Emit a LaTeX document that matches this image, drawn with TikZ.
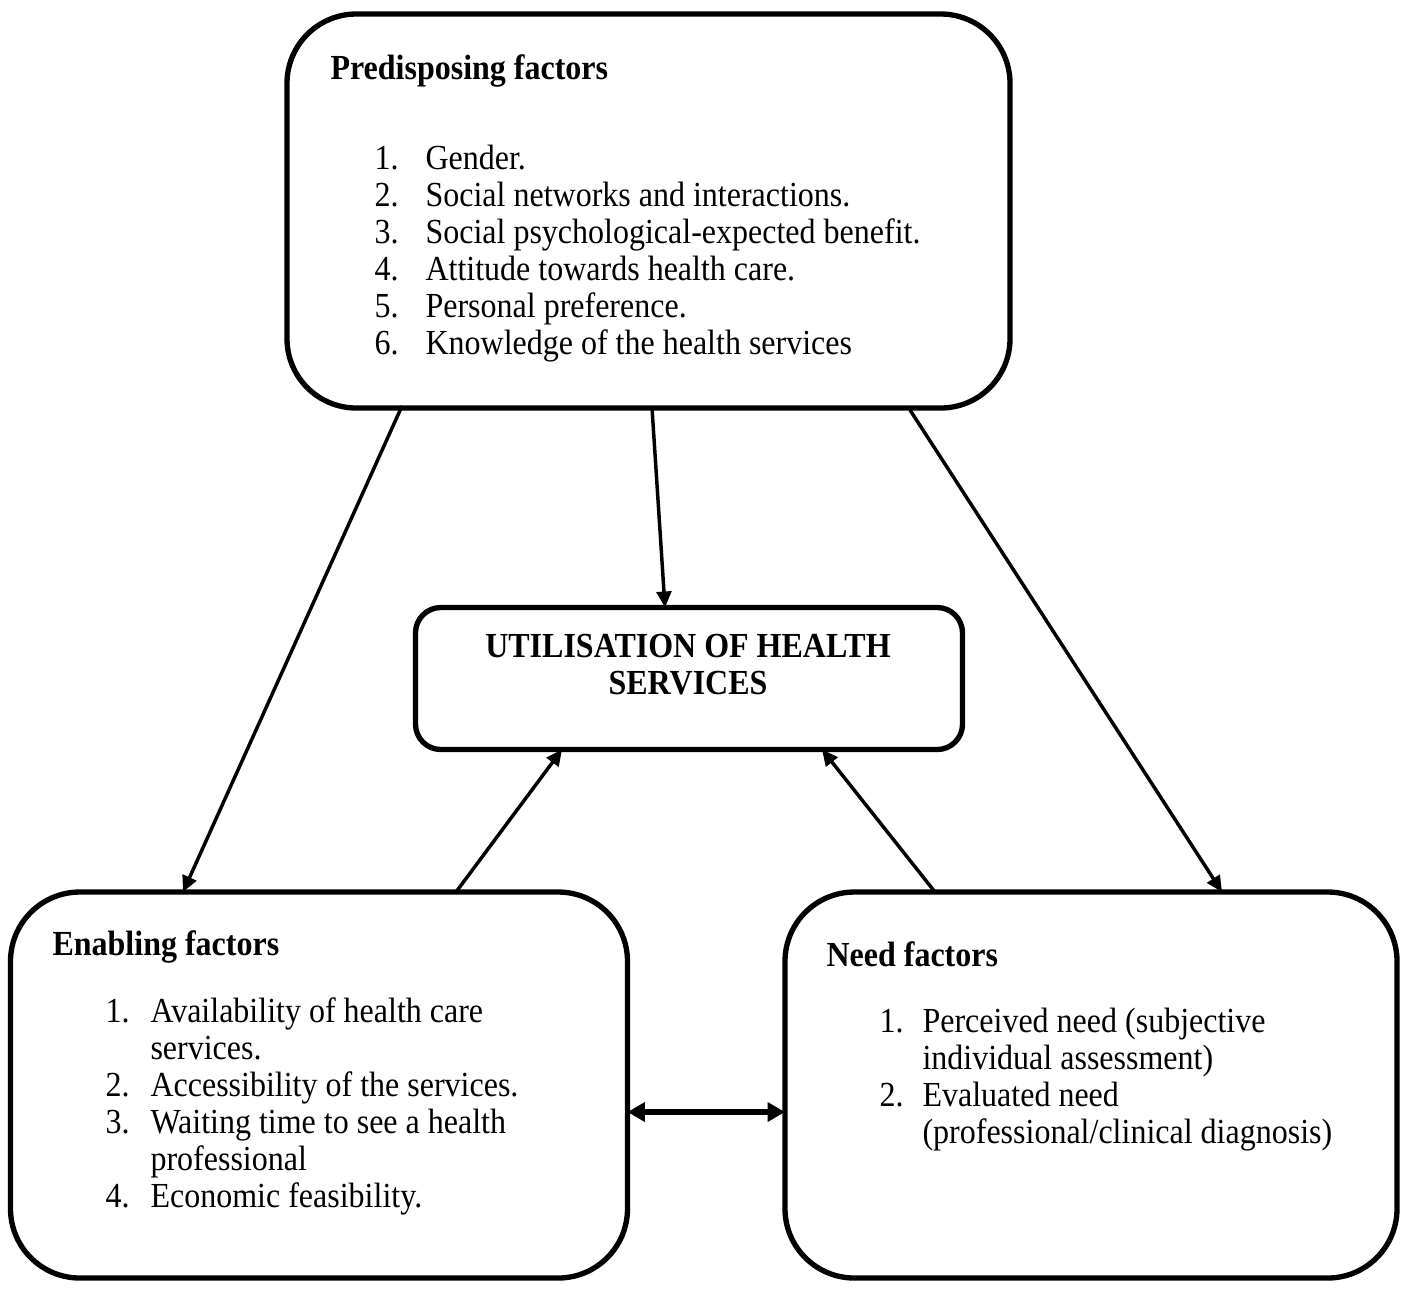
\documentclass[tikz,border=0pt]{standalone}
\usepackage{fontspec}
\setmainfont{Liberation Serif}
\usetikzlibrary{arrows.meta,calc}
\newcommand{\vstr}[1]{\scalebox{1}[1.1]{#1}}
\begin{document}
\begin{tikzpicture}[x=0.375pt,y=-0.375pt,
  box/.style={draw,line width=2pt,inner sep=0pt,outer sep=0pt},
  arr/.style={line width=1.3pt,-{Triangle[length=6pt,width=5.5pt]}},
  dbl/.style={line width=1.9pt,{Triangle[length=6.5pt,width=7pt]}-{Triangle[length=6.5pt,width=7pt]}},
  txt/.style={anchor=base west,inner sep=0pt,font=\fontsize{12}{13.8}\selectfont},
  hd/.style={txt,font=\fontsize{12}{13.8}\selectfont\bfseries},
  ctr/.style={anchor=base,inner sep=0pt,font=\fontsize{12}{13.8}\selectfont\bfseries}]
\useasboundingbox (0,0) rectangle (1407,1288);
% boxes
\node[box,rounded corners=26pt,minimum width=271.125pt,minimum height=147.75pt] (top) at (648.5,211) {};
\node[box,rounded corners=9.5pt,minimum width=205.125pt,minimum height=53.25pt] (util) at (689,678.5) {};
\node[box,rounded corners=26pt,minimum width=231.375pt,minimum height=144.75pt] (en) at (319,1085) {};
\node[box,rounded corners=26pt,minimum width=229.5pt,minimum height=144.75pt] (need) at (1091,1085) {};
% predisposing text
\node[hd] (ph) at (330,79) {\vstr{Predisposing factors}};
\node[txt] (pn1) at (374,169) {\vstr{1.}}; \node[txt] (pt1) at (425,169) {\vstr{Gender.}};
\node[txt] (pn2) at (374,206) {\vstr{2.}}; \node[txt] (pt2) at (425,206) {\vstr{Social networks and interactions.}};
\node[txt] (pn3) at (374,243) {\vstr{3.}}; \node[txt] (pt3) at (425,243) {\vstr{Social psychological-expected benefit.}};
\node[txt] (pn4) at (374,280) {\vstr{4.}}; \node[txt] (pt4) at (425,280) {\vstr{Attitude towards health care.}};
\node[txt] (pn5) at (374,317) {\vstr{5.}}; \node[txt] (pt5) at (425,317) {\vstr{Personal preference.}};
\node[txt] (pn6) at (374,354) {\vstr{6.}}; \node[txt] (pt6) at (425,354) {\vstr{Knowledge of the health services}};
% utilisation text
\node[ctr] (u1) at (688,657) {\vstr{UTILISATION OF HEALTH}};
\node[ctr] (u2) at (688,694) {\vstr{SERVICES}};
% enabling text
\node[hd] (eh) at (52,955) {\vstr{Enabling factors}};
\node[txt] (en1) at (105,1022) {\vstr{1.}}; \node[txt] (et1) at (150,1022) {\vstr{Availability of health care}};
\node[txt] (et1b) at (150,1059) {\vstr{services.}};
\node[txt] (en2) at (105,1096) {\vstr{2.}}; \node[txt] (et2) at (150,1096) {\vstr{Accessibility of the services.}};
\node[txt] (en3) at (105,1133) {\vstr{3.}}; \node[txt] (et3) at (150,1133) {\vstr{Waiting time to see a health}};
\node[txt] (et3b) at (150,1170) {\vstr{professional}};
\node[txt] (en4) at (105,1207) {\vstr{4.}}; \node[txt] (et4) at (150,1207) {\vstr{Economic feasibility.}};
% need text
\node[hd] (nh) at (826,966) {\vstr{Need factors}};
\node[txt] (nn1) at (879,1032) {\vstr{1.}}; \node[txt] (nt1) at (922,1032) {\vstr{Perceived need (subjective}};
\node[txt] (nt1b) at (922,1069) {\vstr{individual assessment)}};
\node[txt] (nn2) at (879,1106) {\vstr{2.}}; \node[txt] (nt2) at (922,1106) {\vstr{Evaluated need}};
\node[txt] (nt2b) at (922,1143) {\vstr{(professional/clinical diagnosis)}};
% connectors
\draw[arr] ($(top.south)+(-246.5,-2)$) -- ($(en.north)+(-136,0)$);
\draw[arr] ($(top.south)+(3.5,0)$) -- ($(util.north)+(-24,0)$);
\draw[arr] ($(top.south)+(261.5,2)$) -- ($(need.north)+(131,0)$);
\draw[arr] ($(en.north)+(137,0)$) -- ($(util.south)+(-127,0)$);
\draw[arr] ($(need.north)+(-156,0)$) -- ($(util.south)+(133,0)$);
\draw[dbl] (en.east |- 0,1112) -- (need.west |- 0,1112);
\end{tikzpicture}
\end{document}
